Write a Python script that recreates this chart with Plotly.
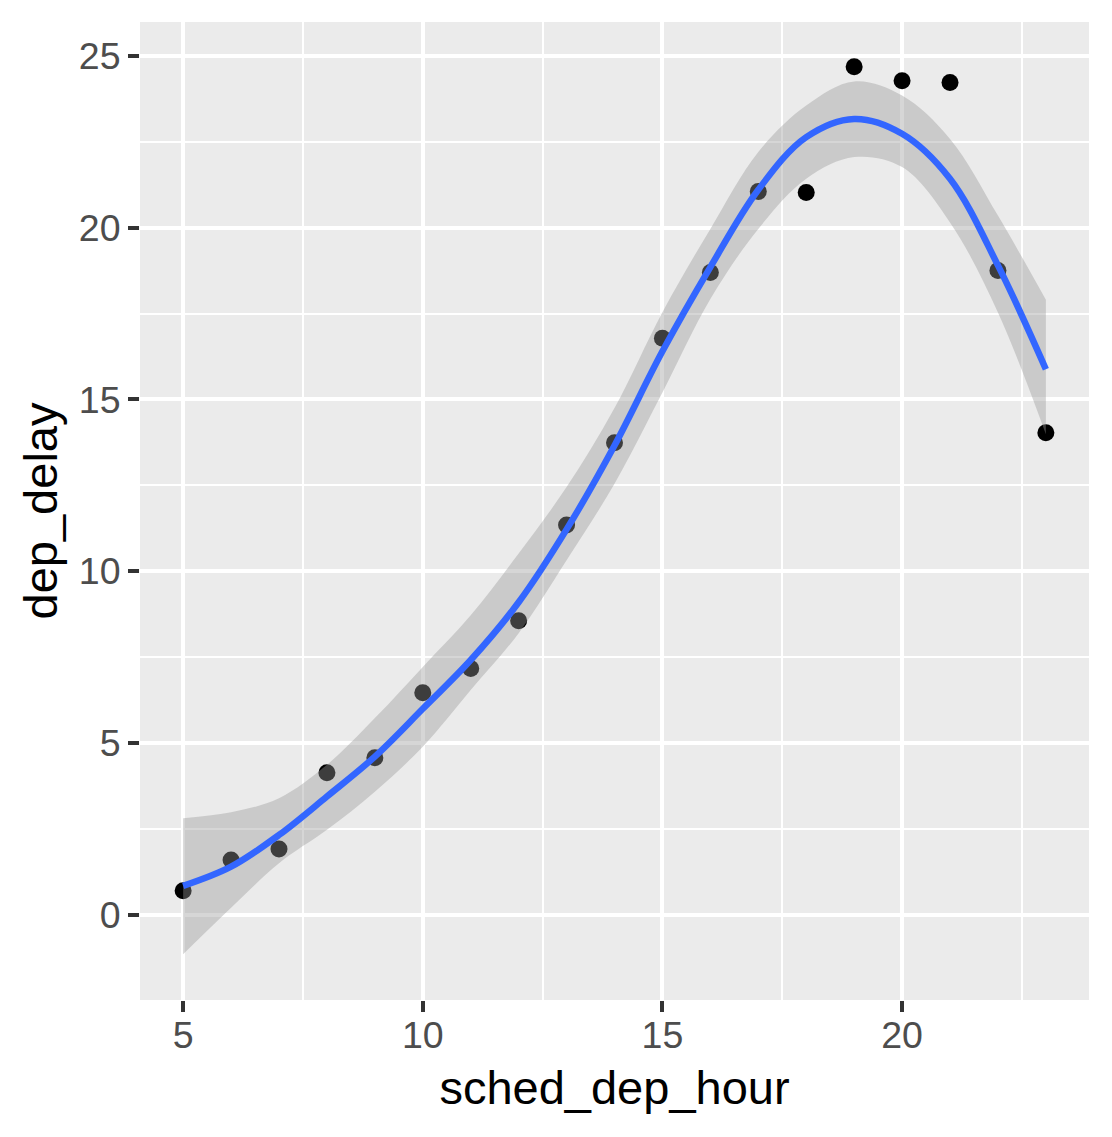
import plotly.graph_objects as go

# departure hour vs mean departure delay
hours = [5, 6, 7, 8, 9, 10, 11, 12, 13, 14, 15, 16, 17, 18, 19, 20, 21, 22, 23]
delay = [0.71, 1.60, 1.92, 4.14, 4.58, 6.47, 7.17, 8.56, 11.35, 13.74, 16.78,
         18.69, 21.05, 21.02, 24.68, 24.27, 24.22, 18.75, 14.03]

# loess smooth and its confidence band, read at each hour
smooth_x = [5, 6, 7, 8, 9, 10, 11, 12, 13, 14, 15, 16, 17, 18, 19, 20, 21, 22, 23]
smooth_y = [0.85, 1.41, 2.33, 3.45, 4.61, 6.00, 7.42, 9.10, 11.22, 13.66, 16.40,
            18.85, 21.10, 22.63, 23.16, 22.73, 21.42, 18.90, 15.88]
band_lo = [-1.14, 0.21, 1.51, 2.48, 3.59, 4.90, 6.55, 8.20, 10.32, 12.55, 15.20,
           17.92, 19.96, 21.42, 22.05, 21.76, 20.15, 17.53, 13.99]
band_hi = [2.82, 2.99, 3.40, 4.37, 5.73, 7.22, 8.72, 10.52, 12.45, 14.75, 17.54,
           19.96, 22.20, 23.55, 24.25, 23.84, 22.58, 20.35, 17.90]

x_ticks = [5, 10, 15, 20]
y_ticks = [0, 5, 10, 15, 20, 25]

fig = go.Figure()

# points go first so the ribbon greys them where it covers them
fig.add_trace(go.Scatter(x=hours, y=delay, mode='markers',
                         marker=dict(color='black', size=17)))

fig.add_trace(go.Scatter(x=smooth_x, y=band_lo, mode='lines',
                         line=dict(width=0, shape='spline'),
                         hoverinfo='skip'))
fig.add_trace(go.Scatter(x=smooth_x, y=band_hi, mode='lines',
                         line=dict(width=0, shape='spline'),
                         fill='tonexty', fillcolor='rgba(153,153,153,0.4)',
                         hoverinfo='skip'))

fig.add_trace(go.Scatter(x=smooth_x, y=smooth_y, mode='lines',
                         line=dict(color='#3366FF', width=6.5, shape='spline')))

axis_style = dict(
    showgrid=True, gridcolor='white', gridwidth=3.6,
    zeroline=False, showline=False,
    ticks='outside', ticklen=11, tickwidth=3.5, tickcolor='#333333',
    tickfont=dict(family='Liberation Sans, Arial', size=37.5, color='#4D4D4D'),
    minor=dict(dtick=2.5, showgrid=True, gridcolor='white', gridwidth=1.8),
)

fig.update_xaxes(axis_style, range=[4.1, 23.9], tickvals=x_ticks, tick0=0,
                 ticklabelstandoff=-9,
                 title=dict(text='sched_dep_hour', standoff=16,
                            font=dict(family='Liberation Sans, Arial', size=47,
                                      color='black')))
fig.update_yaxes(axis_style, range=[-2.47, 25.98], tickvals=y_ticks, tick0=0,
                 ticklabelstandoff=0,
                 title=dict(text='dep_delay', standoff=6,
                            font=dict(family='Liberation Sans, Arial', size=47,
                                      color='black')))

# page body has an 8px margin, so the figure is a bit smaller than the window
fig.update_layout(
    width=1104, height=1129,
    margin=dict(l=132, r=23, t=14, b=137),
    plot_bgcolor='#EBEBEB', paper_bgcolor='white',
    showlegend=False,
)

fig.write_html("out.html")
